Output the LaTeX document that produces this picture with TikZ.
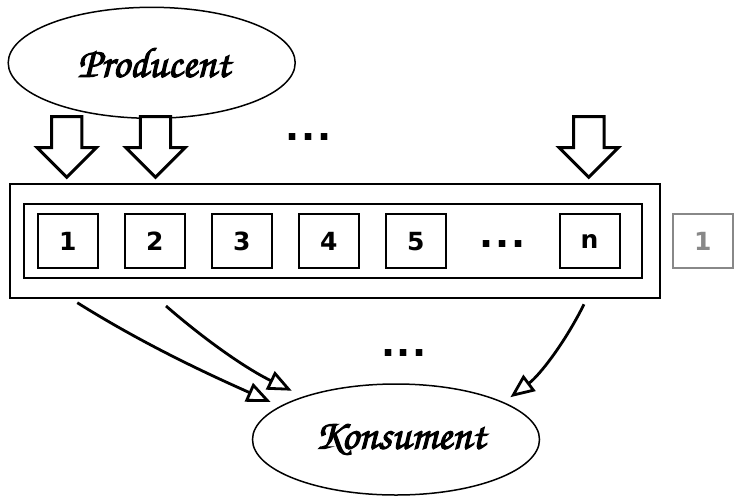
\documentclass[tikz,border=0pt]{standalone}
\usepackage{fontspec}
\usetikzlibrary{arrows.meta,shapes.geometric}
\newfontfamily\dvsans{DejaVu Sans}
\newfontfamily\chorusfont[FakeBold=2.5]{texgyrechorus-mediumitalic.otf}
\definecolor{boxgray}{RGB}{136,136,136}
\tikzset{
  ell/.style={ellipse, draw, line width=1.5pt, minimum width=287pt, minimum height=111pt,
    inner sep=0pt, outer sep=0pt, font=\chorusfont\fontsize{42.5}{42.5}\selectfont},
  cell/.style={draw, line width=2pt, minimum width=60pt, minimum height=54pt, inner sep=0pt,
    font=\dvsans\bfseries\fontsize{25}{25}\selectfont},
  ghostcell/.style={cell, draw=boxgray, text=boxgray},
  frame/.style={draw, line width=2pt, inner sep=0pt},
  dots/.style={font=\dvsans\bfseries\fontsize{37}{37}\selectfont, inner sep=0pt, anchor=base},
  flow/.style={line width=2.8pt, -{Triangle[open,length=24pt,width=20pt]}},
  blockarr/.pic={\draw[fill=white, line width=3pt, miter limit=10]
    (-15.2,116.5) -- (15.2,116.5) -- (15.2,147.5) -- (29.7,147.5) -- (0,177.2)
    -- (-29.7,147.5) -- (-15.2,147.5) -- cycle;}
}
\newcommand{\threedots}{.\kern1.5pt.\kern1.5pt.}
\begin{document}
\begin{tikzpicture}[x=1pt,y=-1pt]
\useasboundingbox (0,0) rectangle (734,496);
% producer
\node[ell] (prod) at (151.7,62.8) {\hspace{4pt}Producent};
% block arrows
\pic (ba1) at (66.7,0) {blockarr};
\pic (ba2) at (155.5,0) {blockarr};
\pic (ba3) at (588.8,0) {blockarr};
\node[dots] (topdots) at (308.5,140.7) {\threedots};
% buffer
\node[frame, minimum width=650pt, minimum height=114pt] (outer) at (335,240.5) {};
\node[frame, minimum width=618pt, minimum height=74pt] (inner) at (332.7,241.3) {};
\node[cell] (c1) at (67.7,241.2) {1};
\node[cell] (c2) at (154.7,241.2) {2};
\node[cell] (c3) at (241.7,241.2) {3};
\node[cell] (c4) at (328.9,241.2) {4};
\node[cell] (c5) at (415.7,241.2) {5};
\node[dots] (rowdots) at (502.5,247) {\threedots};
\node[cell] (cn) at (589.5,241.2) {n};
\node[ghostcell] (g1) at (702.8,241.2) {1};
% consumer
\node[ell] (kons) at (396,439.5) {\hspace{8pt}Konsument};
\node[dots] (botdots) at (404,356.7) {\threedots};
\coordinate (sA) at (77.3,302.7);
\coordinate (sB) at (166,306);
\coordinate (sC) at (584,304.3);
\draw[flow, shorten >=11pt] (sA) .. controls +(67,42) and +(-72,-32) .. (kons.164.8);
\draw[flow, shorten >=14pt] (sB) .. controls +(45,39) and +(-54,-26) .. (kons.155.7);
\draw[flow, shorten >=9pt] (sC) .. controls +(-20,40) and +(36,-27) .. (kons.19.8);
\end{tikzpicture}
\end{document}
